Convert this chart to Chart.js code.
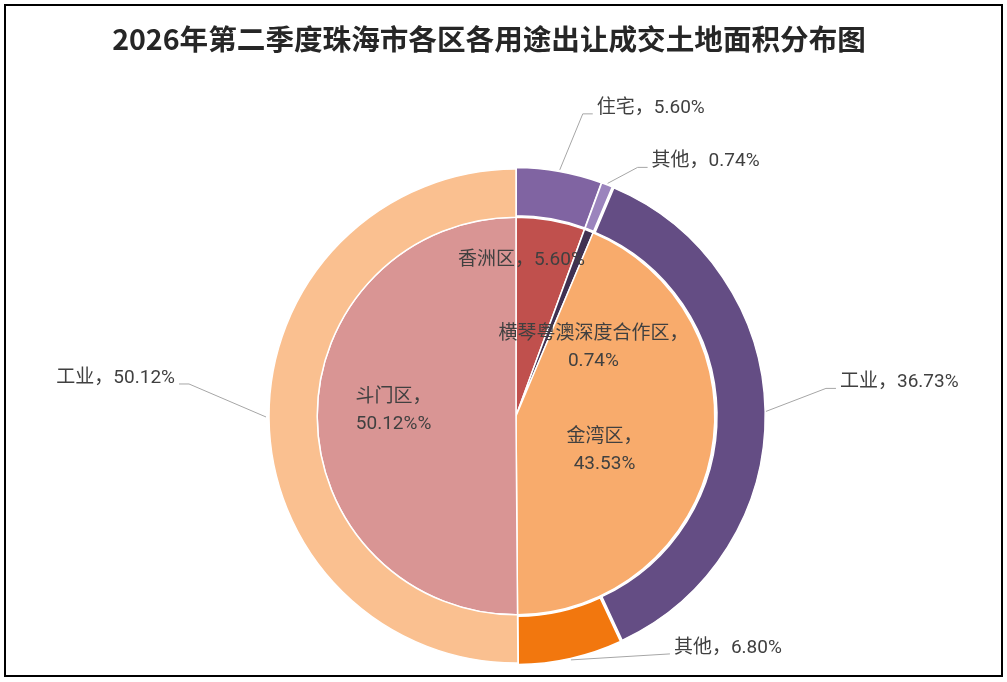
<!DOCTYPE html>
<html lang="zh-CN">
<head>
    <meta charset="UTF-8">
    <meta name="viewport" content="width=device-width, initial-scale=1.0">
    <title>2026年第二季度珠海市各区各用途出让成交土地面积分布图</title>
    <script src="https://cdn.jsdelivr.net/npm/chart.js"></script>
    <style>
        html, body {
            margin: 0;
            padding: 0;
            background-color: #ffffff;
        }
        #wrap {
            position: relative;
            width: 1007px;
            height: 682px;
        }
    </style>
</head>
<body>
    <div id="wrap"><canvas id="landChart"></canvas></div>

    <script>
        // 内圈：各区占比（%）
        const districts = ['香洲区', '横琴粤澳深度合作区', '金湾区', '斗门区'];
        const districtShares = [5.60, 0.74, 43.53, 50.12];
        const districtSuffix = ['%', '%', '%', '%%']; // 原图斗门区标签多一个 %

        // 外圈：各区内各用途占比（%），顺序与内圈对应
        const uses = ['住宅', '其他', '工业', '其他', '工业'];
        const useShares = [5.60, 0.74, 36.73, 6.80, 50.12];

        // 颜色
        const districtColors = ['#C0504D', '#403152', '#F8AB6C', '#D99594'];
        const useColors = ['#8064A2', '#9B84BD', '#644D84', '#F2770E', '#FAC090'];
        const useOffsets = [3.5, 3, 7, 4, 0];

        // 标签摆放：外圈 [拐点dx, 拐点dy, 水平段]，内圈 [相对扇区中心dx, dy]
        const useLabelPos = [[23, -56, 10], [30, -16, 10], [60, -23, 10], [99, -6, 0], [-77, -33, -10]];
        const districtLabelPos = [[-12, -58], [41, 24], [-9, 15], [-23, -6]];

        const LABEL_FONT = '19px Roboto, "Noto Sans CJK SC", sans-serif';
        const LABEL_COLOR = '#404040';

        function drawText(ctx, text, x, y, align) {
            ctx.font = LABEL_FONT;
            ctx.fillStyle = LABEL_COLOR;
            ctx.textAlign = align;
            ctx.textBaseline = 'middle';
            ctx.fillText(text, x, y);
        }

        // 数据标签与引导线
        const sliceLabels = {
            id: 'sliceLabels',
            afterDatasetsDraw(chart) {
                const ctx = chart.ctx;
                ctx.save();

                chart.getDatasetMeta(0).data.forEach((arc, i) => {
                    const mid = (arc.startAngle + arc.endAngle) / 2;
                    const r = arc.outerRadius + 3;
                    const sx = arc.x + Math.cos(mid) * r;
                    const sy = arc.y + Math.sin(mid) * r;
                    const [dx, dy, h] = useLabelPos[i];
                    const ex = sx + dx, ey = sy + dy;
                    ctx.beginPath();
                    ctx.moveTo(sx, sy);
                    ctx.lineTo(ex, ey);
                    ctx.lineTo(ex + h, ey);
                    ctx.strokeStyle = '#A6A6A6';
                    ctx.lineWidth = 1;
                    ctx.stroke();
                    const left = dx < 0;
                    drawText(ctx, uses[i] + '，' + useShares[i].toFixed(2) + '%',
                        ex + h + (left ? -4 : 4), ey - 6, left ? 'right' : 'left');
                });

                chart.getDatasetMeta(1).data.forEach((arc, i) => {
                    const mid = (arc.startAngle + arc.endAngle) / 2;
                    const r = (arc.innerRadius + arc.outerRadius) / 2;
                    const cx = arc.x + Math.cos(mid) * r + districtLabelPos[i][0];
                    const cy = arc.y + Math.sin(mid) * r + districtLabelPos[i][1];
                    const pct = districtShares[i].toFixed(2) + districtSuffix[i];
                    if (i === 0) {
                        drawText(ctx, districts[i] + '，' + pct, cx, cy, 'center');
                    } else {
                        drawText(ctx, districts[i] + '，', cx, cy - 13.5, 'center');
                        drawText(ctx, pct, cx, cy + 13.5, 'center');
                    }
                });

                ctx.restore();
            },
            afterDraw(chart) {
                const ctx = chart.ctx;
                ctx.save();
                // 标题
                ctx.font = 'bold 28.6px "Noto Sans CJK SC", sans-serif';
                ctx.fillStyle = '#262626';
                ctx.textAlign = 'center';
                ctx.textBaseline = 'middle';
                ctx.fillText('2026年第二季度珠海市各区各用途出让成交土地面积分布图', 489, 39);
                // 外框
                ctx.strokeStyle = '#000000';
                ctx.lineWidth = 2;
                ctx.strokeRect(5, 5, 997, 671);
                ctx.restore();
            }
        };

        const ctx = document.getElementById('landChart').getContext('2d');
        const landChart = new Chart(ctx, {
            type: 'pie',
            data: {
                labels: uses,
                datasets: [{
                    label: '用途',
                    data: useShares,
                    backgroundColor: useColors,
                    offset: useOffsets,
                    borderColor: '#ffffff',
                    borderWidth: 1.5,
                    hoverOffset: 0,
                    weight: 48
                }, {
                    label: '区',
                    data: districtShares,
                    backgroundColor: districtColors,
                    borderColor: '#ffffff',
                    borderWidth: 1.5,
                    hoverOffset: 0,
                    weight: 198
                }]
            },
            options: {
                responsive: true,
                maintainAspectRatio: false,
                animation: false,
                radius: 247,
                layout: { padding: { left: 30, right: 5, top: 165, bottom: 15 } },
                plugins: {
                    legend: { display: false },
                    tooltip: { enabled: false },
                    title: { display: false }
                }
            },
            plugins: [sliceLabels]
        });
    </script>
</body>
</html>
